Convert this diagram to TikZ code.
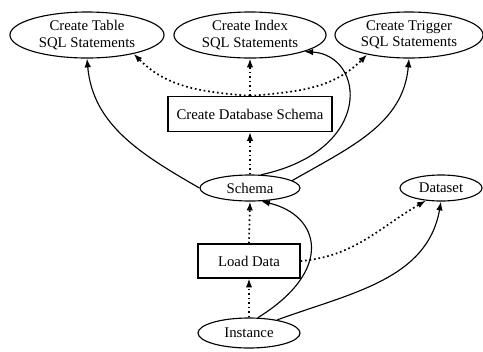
\documentclass[tikz,border=0pt]{standalone}
\usepackage{fontspec}
\setmainfont{Liberation Serif}
\usetikzlibrary{shapes.geometric,arrows.meta,positioning}

\tikzset{
    ell/.style={ellipse, draw, thick, inner sep=0pt},
    task/.style={rectangle, draw, thick, inner sep=0pt},
    flow/.style={thick, -{Latex[length=2.2mm,width=1.6mm]}},
    dotflow/.style={very thick, dash pattern=on 1.2pt off 2pt, -{Latex[length=2.2mm,width=1.6mm]}}
}

\begin{document}
\begin{tikzpicture}[x=0.025cm,y=-0.025cm, every node/.style={font=\fontsize{10.5}{11.5}\selectfont, align=center}]

    \useasboundingbox (0,0) rectangle (483,351);

    % top row
    \node[ell, minimum width=3.85cm, minimum height=1.15cm] (table) at (87,35) {Create Table\\SQL Statements};
    \node[ell, minimum width=3.8cm, minimum height=1.15cm] (index) at (250,35) {Create Index\\SQL Statements};
    \node[ell, minimum width=3.7cm, minimum height=1.15cm] (trigger) at (409,35) {Create Trigger\\SQL Statements};

    \node[task, minimum width=4.1cm, minimum height=0.875cm] (dbschema) at (250,114) {Create Database Schema};

    \node[ell, minimum width=2.5cm, minimum height=0.65cm] (schema) at (250,188) {Schema};
    \node[ell, minimum width=2.05cm, minimum height=0.65cm] (dataset) at (441,188) {Dataset};

    \node[task, minimum width=2.55cm, minimum height=0.85cm] (load) at (249,261) {Load Data};
    \node[ell, minimum width=2.55cm, minimum height=0.75cm] (instance) at (249,333) {Instance};

    % dotted
    \draw[dotflow] (dbschema.north) to[out=175, in=-45] (table.-22);
    \draw[dotflow] (dbschema.north) -- (index.south);
    \draw[dotflow] (dbschema.north) to[out=5, in=-135] (trigger.-155);
    \draw[dotflow] (schema.north) -- (dbschema.south);
    \draw[dotflow] (load.north) -- (schema.south);
    \draw[dotflow] (instance.north) -- (load.south);
    \draw[dotflow] (load.east) to[out=5, in=-150] (dataset.-140);

    % solid
    \draw[flow] (schema.west) to[out=150, in=-85] (table.south);
    \draw[flow] (schema.10) to[out=30, in=-95] (trigger.south);
    \draw[flow] (schema.50) .. controls (375,150) and (365,55) .. (index.-17);
    \draw[flow] (instance.60) .. controls (335,270) and (320,215) .. (schema.-50);
    \draw[flow] (instance.25) to[out=20, in=-100] (dataset.south);

\end{tikzpicture}
\end{document}
